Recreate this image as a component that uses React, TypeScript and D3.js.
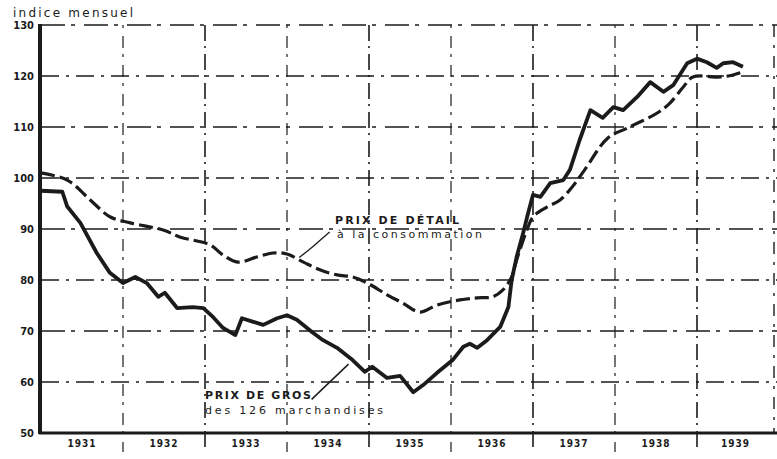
import React, { useEffect, useRef } from 'react';
import * as d3 from 'd3';

// axis labels
const yearLabels = ['1931', '1932', '1933', '1934', '1935', '1936', '1937', '1938', '1939'];
const yTicks = [50, 60, 70, 80, 90, 100, 110, 120, 130];

// prix de gros (126 marchandises) - date as decimal year
const grosDates = [
  1931.0, 1931.26, 1931.32, 1931.48, 1931.68, 1931.84, 1932.0, 1932.15, 1932.29, 1932.43,
  1932.51, 1932.66, 1932.85, 1932.98, 1933.1, 1933.22, 1933.37, 1933.45, 1933.59, 1933.71,
  1933.88, 1934.0, 1934.12, 1934.32, 1934.44, 1934.61, 1934.8, 1934.95, 1935.04, 1935.22,
  1935.38, 1935.54, 1935.66, 1935.83, 1936.02, 1936.15, 1936.23, 1936.32, 1936.44, 1936.6,
  1936.7, 1936.74, 1936.8, 1936.88, 1936.94, 1937.0, 1937.09, 1937.21, 1937.37, 1937.45,
  1937.57, 1937.7, 1937.85, 1937.98, 1938.1, 1938.27, 1938.43, 1938.59, 1938.71, 1938.88,
  1939.0, 1939.12, 1939.24, 1939.32, 1939.44, 1939.56,
];
const grosValues = [
  97.5, 97.3, 94.4, 91.2, 85.3, 81.4, 79.4, 80.6, 79.4, 76.7,
  77.5, 74.5, 74.7, 74.5, 72.7, 70.6, 69.2, 72.5, 71.8, 71.2,
  72.5, 73.1, 72.2, 69.6, 68.2, 66.7, 64.3, 62.0, 63.0, 60.8,
  61.2, 58.0, 59.4, 61.8, 64.3, 66.9, 67.5, 66.7, 68.2, 70.8,
  74.7, 80.0, 84.5, 89.2, 93.1, 96.7, 96.3, 99.0, 99.6, 101.6,
  107.5, 113.3, 111.8, 113.9, 113.3, 115.9, 118.8, 116.9, 118.2, 122.5,
  123.4, 122.7, 121.6, 122.5, 122.7, 121.8,
];

// prix de detail a la consommation
const detailDates = [
  1931.0, 1931.32, 1931.6, 1931.84, 1932.09, 1932.49, 1932.7, 1933.06, 1933.22, 1933.4,
  1933.63, 1933.83, 1934.0, 1934.2, 1934.4, 1934.61, 1934.8, 1934.98, 1935.22, 1935.41,
  1935.62, 1935.83, 1936.11, 1936.32, 1936.51, 1936.63, 1936.74, 1936.8, 1936.88, 1936.94,
  1937.0, 1937.17, 1937.33, 1937.49, 1937.63, 1937.91, 1938.15, 1938.51, 1938.67, 1938.83,
  1938.95, 1939.28, 1939.44, 1939.56,
];
const detailValues = [
  101.0, 99.6, 95.7, 92.4, 91.2, 89.8, 88.4, 86.9, 84.9, 83.5,
  84.5, 85.3, 85.1, 83.5, 82.0, 81.0, 80.6, 79.4, 77.1, 75.5,
  73.7, 75.1, 76.1, 76.5, 76.7, 78.0, 80.6, 83.9, 87.8, 90.4,
  92.4, 94.3, 95.7, 98.5, 101.6, 107.8, 109.8, 112.7, 114.7, 117.8,
  119.8, 119.8, 120.2, 120.8,
];

const W = 777;
const H = 459;

function PriceChart() {
  const svgRef = useRef<SVGSVGElement>(null);

  useEffect(() => {
    const svg = d3.select(svgRef.current);
    svg.selectAll('*').remove();

    const left = 41;
    const rightEdge = 774;
    const x = d3.scaleLinear().domain([1931, 1939]).range([left, 697]);
    const y = d3.scaleLinear().domain([50, 130]).range([433, 25]);
    const ink = '#1b1b1b';
    const font = "'DejaVu Sans', sans-serif";
    const condensed = "'DejaVu Sans Condensed', 'DejaVu Sans', sans-serif";

    svg.append('rect').attr('width', W).attr('height', H).attr('fill', '#fff');

    const grid = svg.append('g').attr('stroke', ink).attr('fill', 'none');

    // horizontal grid lines (60..130)
    grid.selectAll('line.h')
      .data(yTicks.filter(d => d > 50))
      .enter().append('line')
      .attr('x1', left).attr('x2', W)
      .attr('y1', d => y(d)).attr('y2', d => y(d))
      .attr('stroke-width', 1.4)
      .attr('stroke-dasharray', (d, i) => (i % 2 === 0 ? '18,7,3,7' : '24,6,4,9'));

    // vertical grid lines at year boundaries
    const bounds = d3.range(1932, 1940);
    grid.selectAll('line.v')
      .data(bounds)
      .enter().append('line')
      .attr('x1', d => x(d)).attr('x2', d => x(d))
      .attr('y1', y(130)).attr('y2', 452)
      .attr('stroke-width', (d, i) => (i % 2 === 0 ? 1.2 : 1.6))
      .attr('stroke-dasharray', (d, i) => (i % 2 === 0 ? '3,8,12,6' : '16,5,2,6'));

    grid.append('line')
      .attr('x1', rightEdge).attr('x2', rightEdge)
      .attr('y1', y(130)).attr('y2', y(50))
      .attr('stroke-width', 1.4)
      .attr('stroke-dasharray', '12,8,3,8');

    // axes
    svg.append('line')
      .attr('x1', left - 1).attr('x2', left - 1)
      .attr('y1', y(130) - 1).attr('y2', y(50) + 1)
      .attr('stroke', ink).attr('stroke-width', 4);
    svg.append('line')
      .attr('x1', left - 2).attr('x2', W)
      .attr('y1', y(50)).attr('y2', y(50))
      .attr('stroke', ink).attr('stroke-width', 2.8);

    // y labels
    svg.append('g')
      .selectAll('text')
      .data(yTicks)
      .enter().append('text')
      .attr('x', 34)
      .attr('y', d => y(d) + 4)
      .attr('text-anchor', 'end')
      .attr('font-family', condensed)
      .attr('font-size', 11)
      .attr('font-weight', 'bold')
      .attr('fill', ink)
      .text(d => d);

    svg.append('text')
      .attr('x', 13).attr('y', 17)
      .attr('font-family', font)
      .attr('font-size', 12)
      .attr('textLength', 120)
      .attr('lengthAdjust', 'spacing')
      .attr('fill', ink)
      .text('indice mensuel');

    // year labels
    svg.append('g')
      .selectAll('text')
      .data(yearLabels)
      .enter().append('text')
      .attr('x', d => (x(+d) + Math.min(x(+d + 1), rightEdge)) / 2)
      .attr('y', 447)
      .attr('text-anchor', 'middle')
      .attr('font-family', condensed)
      .attr('font-size', 10)
      .attr('font-weight', 'bold')
      .attr('letter-spacing', 1)
      .attr('fill', ink)
      .text(d => d);

    // series
    const detailPts = detailDates.map((d, i) => [x(d), y(detailValues[i])] as [number, number]);
    const grosPts = grosDates.map((d, i) => [x(d), y(grosValues[i])] as [number, number]);

    svg.append('path')
      .attr('d', d3.line().curve(d3.curveCatmullRom.alpha(0.5))(detailPts))
      .attr('fill', 'none')
      .attr('stroke', ink)
      .attr('stroke-width', 3.2)
      .attr('stroke-dasharray', '14,5');

    svg.append('path')
      .attr('d', d3.line().curve(d3.curveLinear)(grosPts))
      .attr('fill', 'none')
      .attr('stroke', ink)
      .attr('stroke-width', 3.8)
      .attr('stroke-linejoin', 'round');

    // annotations
    const note = svg.append('g')
      .attr('font-family', font)
      .attr('fill', ink);

    note.append('text').attr('x', 335).attr('y', 224)
      .attr('font-size', 11).attr('font-weight', 'bold')
      .attr('textLength', 124).attr('lengthAdjust', 'spacing')
      .text('PRIX DE DÉTAIL');
    note.append('text').attr('x', 337).attr('y', 238)
      .attr('font-size', 11)
      .attr('textLength', 145).attr('lengthAdjust', 'spacing')
      .text('à la consommation');

    note.append('text').attr('x', 205).attr('y', 399)
      .attr('font-size', 11).attr('font-weight', 'bold')
      .attr('textLength', 106).attr('lengthAdjust', 'spacing')
      .text('PRIX DE GROS');
    note.append('text').attr('x', 205).attr('y', 414)
      .attr('font-size', 11)
      .attr('textLength', 178).attr('lengthAdjust', 'spacing')
      .text('des 126 marchandises');

    // leader lines
    svg.append('path')
      .attr('d', d3.line().curve(d3.curveBasis)([[x(1934.15), y(84.4)], [x(1934.33), y(86.7)], [x(1934.52), y(89.4)]]))
      .attr('fill', 'none').attr('stroke', ink).attr('stroke-width', 1.3);
    svg.append('path')
      .attr('d', d3.line()([[x(1934.3), y(56.6)], [x(1934.75), y(63.5)]]))
      .attr('fill', 'none').attr('stroke', ink).attr('stroke-width', 1.5);
  }, []);

  return <svg ref={svgRef} width={W} height={H} style={{ position: 'absolute', left: 0, top: 0 }}></svg>;
}

export default function App() {
  return <PriceChart />;
}
